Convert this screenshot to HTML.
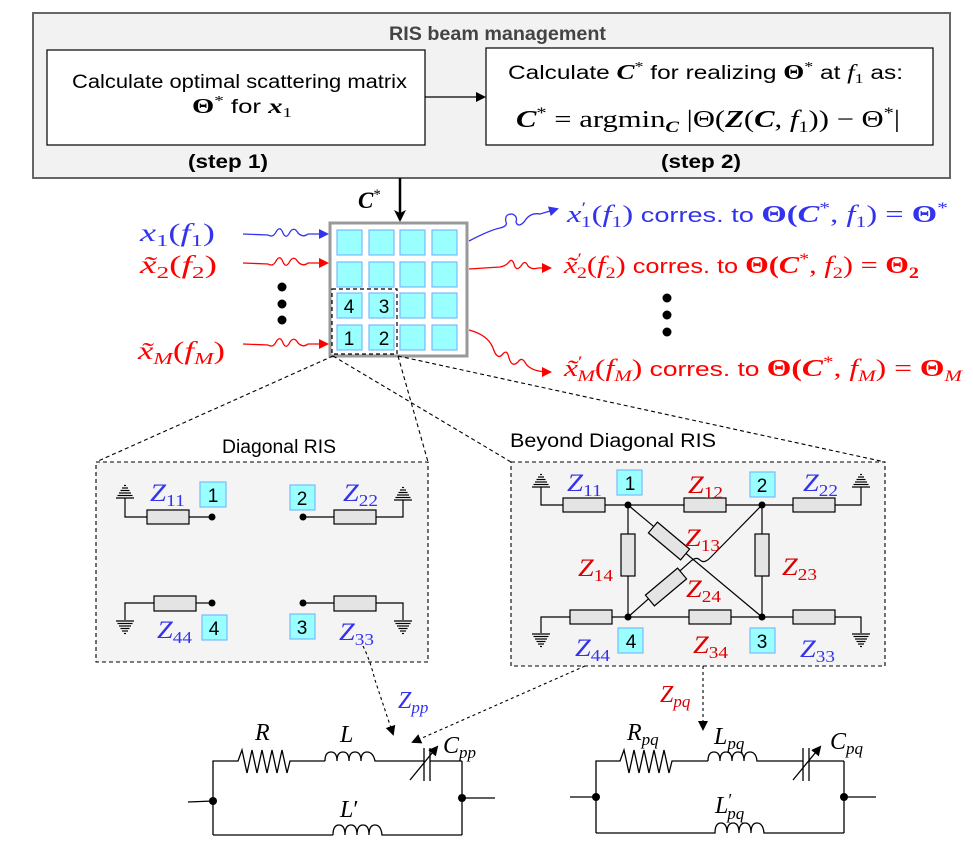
<!DOCTYPE html>
<html><head><meta charset="utf-8"><style>
html,body{margin:0;padding:0;background:#fff;}
svg{display:block;}
.s{font-family:"Liberation Sans",sans-serif;}
.m{font-family:"Liberation Serif",serif;font-style:italic;}
.mb{font-family:"Liberation Serif",serif;font-style:italic;font-weight:bold;}
.r{font-family:"Liberation Serif",serif;}
.rb{font-family:"Liberation Serif",serif;font-weight:bold;}
</style></head><body>
<svg width="973" height="853" viewBox="0 0 973 853" xmlns="http://www.w3.org/2000/svg">
<defs>
<marker id="ab" markerWidth="10" markerHeight="10" refX="8" refY="5" orient="auto" markerUnits="userSpaceOnUse"><path d="M0,0 L10,5 L0,10 z" fill="#3333ee"/></marker>
<marker id="ar" markerWidth="10" markerHeight="10" refX="8" refY="5" orient="auto" markerUnits="userSpaceOnUse"><path d="M0,0 L10,5 L0,10 z" fill="#ff0000"/></marker>
<marker id="ak" markerWidth="10" markerHeight="10" refX="8" refY="5" orient="auto" markerUnits="userSpaceOnUse"><path d="M0,0 L10,5 L0,10 z" fill="#000"/></marker>
<marker id="akb" markerWidth="14" markerHeight="14" refX="10" refY="6" orient="auto" markerUnits="userSpaceOnUse"><path d="M0,0 L12,6 L0,12 L3,6 z" fill="#000"/></marker>
<g id="gu" stroke="#000" stroke-width="1.2"><line x1="-9" y1="0" x2="9" y2="0"/><line x1="-7.5" y1="-2.5" x2="7.5" y2="-2.5"/><line x1="-6" y1="-5" x2="6" y2="-5"/><line x1="-4.5" y1="-7.5" x2="4.5" y2="-7.5"/><line x1="-3" y1="-10" x2="3" y2="-10"/><line x1="-1" y1="-12.5" x2="1" y2="-12.5"/></g>
<g id="gd" stroke="#000" stroke-width="1.2"><line x1="-9" y1="0" x2="9" y2="0"/><line x1="-7.5" y1="2.5" x2="7.5" y2="2.5"/><line x1="-6" y1="5" x2="6" y2="5"/><line x1="-4.5" y1="7.5" x2="4.5" y2="7.5"/><line x1="-3" y1="10" x2="3" y2="10"/><line x1="-1" y1="12.5" x2="1" y2="12.5"/></g>
</defs>

<!-- Top RIS beam management box -->
<rect x="33" y="13" width="917" height="165" fill="#f2f2f2" stroke="#666" stroke-width="2"/>
<text x="389" y="40" class="s" font-size="19" font-weight="bold" fill="#444" textLength="217" lengthAdjust="spacingAndGlyphs">RIS beam management</text>
<rect x="47" y="50" width="378" height="95" fill="#fff" stroke="#000" stroke-width="1.2"/>
<text x="72" y="88" class="s" font-size="19" textLength="335" lengthAdjust="spacingAndGlyphs">Calculate optimal scattering matrix</text>
<text x="192" y="113" font-size="21" textLength="100" lengthAdjust="spacingAndGlyphs"><tspan class="rb">Θ</tspan><tspan class="r" font-size="14" dy="-8">*</tspan><tspan class="s" font-size="19" dy="8"> for </tspan><tspan class="mb">x</tspan><tspan class="r" font-size="14" dy="4">1</tspan></text>
<line x1="425" y1="97" x2="484" y2="97" stroke="#000" stroke-width="1.2" marker-end="url(#ak)"/>
<rect x="486" y="48" width="447" height="97" fill="#fff" stroke="#000" stroke-width="1.2"/>
<text x="508" y="79" font-size="21" textLength="395" lengthAdjust="spacingAndGlyphs"><tspan class="s" font-size="19">Calculate </tspan><tspan class="mb">C</tspan><tspan class="r" font-size="14" dy="-8">*</tspan><tspan class="s" font-size="19" dy="8"> for realizing </tspan><tspan class="rb">Θ</tspan><tspan class="r" font-size="14" dy="-8">*</tspan><tspan class="s" font-size="19" dy="8"> at </tspan><tspan class="m">f</tspan><tspan class="r" font-size="14" dy="4">1</tspan><tspan class="s" font-size="19" dy="-4"> as:</tspan></text>
<text x="516" y="127" font-size="24" textLength="384" lengthAdjust="spacingAndGlyphs"><tspan class="mb">C</tspan><tspan class="r" font-size="16" dy="-9">*</tspan><tspan class="r" dy="9"> = argmin</tspan><tspan class="mb" font-size="16" dy="5">C</tspan><tspan class="r" dy="-5"> |Θ(</tspan><tspan class="mb">Z</tspan><tspan class="r">(</tspan><tspan class="mb">C</tspan><tspan class="r">, </tspan><tspan class="m">f</tspan><tspan class="r" font-size="16" dy="5">1</tspan><tspan class="r" dy="-5">)) − Θ</tspan><tspan class="r" font-size="16" dy="-9">*</tspan><tspan class="r" dy="9">|</tspan></text>
<text x="188" y="168" class="s" font-size="19" font-weight="bold" textLength="80" lengthAdjust="spacingAndGlyphs">(step 1)</text>
<text x="661" y="168" class="s" font-size="19" font-weight="bold" textLength="80" lengthAdjust="spacingAndGlyphs">(step 2)</text>

<!-- C* arrow -->
<line x1="400" y1="178" x2="400" y2="220" stroke="#000" stroke-width="2.5" marker-end="url(#akb)"/>
<text x="358" y="208" font-size="23"><tspan class="mb">C</tspan><tspan class="r" font-size="15" dy="-9">*</tspan></text>

<!-- RIS grid -->
<rect x="330" y="223" width="137" height="133" fill="#fff" stroke="#999" stroke-width="3"/>
<g fill="#99ffff" stroke="#77bbff" stroke-width="1.2">
<rect x="337" y="230" width="25" height="25"/><rect x="369" y="230" width="25" height="25"/><rect x="400" y="230" width="25" height="25"/><rect x="432" y="230" width="25" height="25"/>
<rect x="337" y="262" width="25" height="25"/><rect x="369" y="262" width="25" height="25"/><rect x="400" y="262" width="25" height="25"/><rect x="432" y="262" width="25" height="25"/>
<rect x="337" y="293" width="25" height="25"/><rect x="369" y="293" width="25" height="25"/><rect x="400" y="293" width="25" height="25"/><rect x="432" y="293" width="25" height="25"/>
<rect x="337" y="325" width="25" height="25"/><rect x="369" y="325" width="25" height="25"/><rect x="400" y="325" width="25" height="25"/><rect x="432" y="325" width="25" height="25"/>
</g>
<rect x="332" y="289" width="65" height="65" fill="none" stroke="#000" stroke-width="1.2" stroke-dasharray="4,3"/>
<g class="s" font-size="19" text-anchor="middle"><text x="349" y="313">4</text><text x="384" y="313">3</text><text x="349" y="345">1</text><text x="384" y="345">2</text></g>

<!-- Inputs -->
<g font-size="25">
<text x="140" y="241" fill="#3333ee" textLength="75" lengthAdjust="spacingAndGlyphs"><tspan class="m">x</tspan><tspan class="r" font-size="17" dy="5">1</tspan><tspan class="r" dy="-5">(</tspan><tspan class="m">f</tspan><tspan class="r" font-size="17" dy="5">1</tspan><tspan class="r" dy="-5">)</tspan></text>
<text x="140" y="273" fill="#ff0000" textLength="77" lengthAdjust="spacingAndGlyphs"><tspan class="m">x̃</tspan><tspan class="r" font-size="17" dy="5">2</tspan><tspan class="r" dy="-5">(</tspan><tspan class="m">f</tspan><tspan class="r" font-size="17" dy="5">2</tspan><tspan class="r" dy="-5">)</tspan></text>
<text x="138" y="359" fill="#ff0000" textLength="87" lengthAdjust="spacingAndGlyphs"><tspan class="m">x̃</tspan><tspan class="m" font-size="17" dy="5">M</tspan><tspan class="r" dy="-5">(</tspan><tspan class="m">f</tspan><tspan class="m" font-size="17" dy="5">M</tspan><tspan class="r" dy="-5">)</tspan></text>
</g>
<g fill="#000"><circle cx="282" cy="287" r="4.5"/><circle cx="282" cy="304" r="4.5"/><circle cx="282" cy="320" r="4.5"/></g>
<path d="M243,234 L268,235 Q273,238 276,232 Q280,225 283,233 Q286,240 290,232 Q294,226 298,233 Q303,238 308,234 L327,234" fill="none" stroke="#3333ee" stroke-width="1.3" marker-end="url(#ab)"/>
<path d="M243,263 L268,264 Q273,267 276,261 Q280,254 283,262 Q286,269 290,261 Q294,255 298,262 Q303,267 308,263 L327,263" fill="none" stroke="#ff0000" stroke-width="1.3" marker-end="url(#ar)"/>
<path d="M243,344 L268,345 Q273,348 276,342 Q280,335 283,343 Q286,350 290,342 Q294,336 298,343 Q303,348 308,344 L327,344" fill="none" stroke="#ff0000" stroke-width="1.3" marker-end="url(#ar)"/>

<!-- Outputs -->
<path d="M469,241 Q490,230 500,228 Q508,226 506,222 Q504,214 512,214 Q518,216 516,222 Q518,228 524,222 Q530,212 540,214 L557,209" fill="none" stroke="#3333ee" stroke-width="1.3" marker-end="url(#ab)"/>
<path d="M469,269 L500,267 Q506,266 509,262 Q512,258 514,264 Q516,272 521,266 Q525,259 528,266 Q532,270 538,268 L550,268" fill="none" stroke="#ff0000" stroke-width="1.3" marker-end="url(#ar)"/>
<path d="M469,330 Q488,335 493,348 Q497,360 502,355 Q507,348 509,358 Q512,368 518,362 Q522,356 526,364 Q532,372 550,372" fill="none" stroke="#ff0000" stroke-width="1.3" marker-end="url(#ar)"/>
<g font-size="24">
<text x="567" y="222" fill="#3333ee" textLength="381" lengthAdjust="spacingAndGlyphs"><tspan class="m">x</tspan><tspan class="r" font-size="16" dy="-9">′</tspan><tspan class="r" font-size="16" dx="-4" dy="14">1</tspan><tspan class="r" dy="-5">(</tspan><tspan class="m">f</tspan><tspan class="r" font-size="16" dy="5">1</tspan><tspan class="r" dy="-5">)</tspan><tspan class="s" font-size="20"> corres. to </tspan><tspan class="rb">Θ(</tspan><tspan class="mb">C</tspan><tspan class="r" font-size="16" dy="-9">*</tspan><tspan class="r" dy="9">, </tspan><tspan class="m">f</tspan><tspan class="r" font-size="16" dy="5">1</tspan><tspan class="r" dy="-5">) = </tspan><tspan class="rb">Θ</tspan><tspan class="r" font-size="16" dy="-9">*</tspan></text>
<text x="564" y="273" fill="#ff0000" textLength="355" lengthAdjust="spacingAndGlyphs"><tspan class="m">x̃</tspan><tspan class="r" font-size="16" dy="-9">′</tspan><tspan class="r" font-size="16" dx="-4" dy="14">2</tspan><tspan class="r" dy="-5">(</tspan><tspan class="m">f</tspan><tspan class="r" font-size="16" dy="5">2</tspan><tspan class="r" dy="-5">)</tspan><tspan class="s" font-size="20"> corres. to </tspan><tspan class="rb">Θ(</tspan><tspan class="mb">C</tspan><tspan class="r" font-size="16" dy="-9">*</tspan><tspan class="r" dy="9">, </tspan><tspan class="m">f</tspan><tspan class="r" font-size="16" dy="5">2</tspan><tspan class="r" dy="-5">) = </tspan><tspan class="rb">Θ</tspan><tspan class="rb" font-size="16" dy="5">2</tspan></text>
<text x="564" y="376" fill="#ff0000" textLength="398" lengthAdjust="spacingAndGlyphs"><tspan class="m">x̃</tspan><tspan class="r" font-size="16" dy="-9">′</tspan><tspan class="m" font-size="16" dx="-4" dy="14">M</tspan><tspan class="r" dy="-5">(</tspan><tspan class="m">f</tspan><tspan class="m" font-size="16" dy="5">M</tspan><tspan class="r" dy="-5">)</tspan><tspan class="s" font-size="20"> corres. to </tspan><tspan class="rb">Θ(</tspan><tspan class="mb">C</tspan><tspan class="r" font-size="16" dy="-9">*</tspan><tspan class="r" dy="9">, </tspan><tspan class="m">f</tspan><tspan class="m" font-size="16" dy="5">M</tspan><tspan class="r" dy="-5">) = </tspan><tspan class="rb">Θ</tspan><tspan class="m" font-size="16" dy="5">M</tspan></text>
</g>
<g fill="#000"><circle cx="667" cy="298" r="4.5"/><circle cx="667" cy="315" r="4.5"/><circle cx="667" cy="332" r="4.5"/></g>

<!-- zoom dashed lines -->
<g stroke="#000" stroke-width="1.1" stroke-dasharray="4,3" fill="none">
<line x1="333" y1="356" x2="96" y2="462"/>
<line x1="333" y1="356" x2="511" y2="462"/>
<line x1="398" y1="356" x2="428" y2="462"/>
<line x1="398" y1="356" x2="885" y2="462"/>
</g>

<!-- Diagonal RIS -->
<text x="222" y="453" class="s" font-size="19" textLength="114" lengthAdjust="spacingAndGlyphs">Diagonal RIS</text>
<rect x="96" y="462" width="332" height="200" fill="#f4f4f4" stroke="#000" stroke-width="1.1" stroke-dasharray="4,3"/>
<g stroke="#000" stroke-width="1.2" fill="none">
<polyline points="125,498 125,517 147,517"/><line x1="189" y1="517" x2="212" y2="517"/>
<polyline points="403,500 403,517 376,517"/><line x1="303" y1="517" x2="334" y2="517"/>
<polyline points="125,620 125,603 154,603"/><line x1="196" y1="603" x2="212" y2="603"/>
<polyline points="403,620 403,603 376,603"/><line x1="303" y1="603" x2="334" y2="603"/>
</g>
<g fill="#e4e4e4" stroke="#000" stroke-width="1.2">
<rect x="147" y="510" width="42" height="14"/><rect x="334" y="510" width="42" height="14"/>
<rect x="154" y="596" width="42" height="15"/><rect x="334" y="596" width="42" height="15"/>
</g>
<use href="#gu" x="125" y="498"/><use href="#gu" x="403" y="500"/>
<use href="#gd" x="125" y="621"/><use href="#gd" x="403" y="621"/>
<g fill="#000"><circle cx="212" cy="517" r="3.5"/><circle cx="303" cy="517" r="3.5"/><circle cx="212" cy="603" r="3.5"/><circle cx="303" cy="603" r="3.5"/></g>
<g fill="#99ffff" stroke="#77bbff" stroke-width="1.2">
<rect x="200" y="482" width="26" height="25"/><rect x="290" y="485" width="25" height="25"/>
<rect x="202" y="615" width="25" height="25"/><rect x="290" y="614" width="25" height="25"/>
</g>
<g class="s" font-size="19" text-anchor="middle"><text x="213" y="502">1</text><text x="302" y="505">2</text><text x="214" y="635">4</text><text x="302" y="634">3</text></g>
<g fill="#3333ee" font-size="25">
<text x="150" y="501" textLength="35" lengthAdjust="spacingAndGlyphs"><tspan class="m">Z</tspan><tspan class="r" font-size="17" dy="5">11</tspan></text>
<text x="343" y="501" textLength="35" lengthAdjust="spacingAndGlyphs"><tspan class="m">Z</tspan><tspan class="r" font-size="17" dy="5">22</tspan></text>
<text x="157" y="638" textLength="35" lengthAdjust="spacingAndGlyphs"><tspan class="m">Z</tspan><tspan class="r" font-size="17" dy="5">44</tspan></text>
<text x="339" y="640" textLength="35" lengthAdjust="spacingAndGlyphs"><tspan class="m">Z</tspan><tspan class="r" font-size="17" dy="5">33</tspan></text>
</g>

<!-- Beyond Diagonal RIS -->
<text x="510" y="447" class="s" font-size="19" textLength="206" lengthAdjust="spacingAndGlyphs">Beyond Diagonal RIS</text>
<rect x="511" y="462" width="374" height="204" fill="#f4f4f4" stroke="#000" stroke-width="1.1" stroke-dasharray="4,3"/>
<g stroke="#000" stroke-width="1.2" fill="none">
<polyline points="541,487 541,505 563,505"/><line x1="605" y1="505" x2="684" y2="505"/><line x1="726" y1="505" x2="793" y2="505"/><polyline points="835,505 861,505 861,487"/>
<polyline points="541,633 541,617 570,617"/><line x1="612" y1="617" x2="689" y2="617"/><line x1="731" y1="617" x2="793" y2="617"/><polyline points="835,617 861,617 861,633"/>
<line x1="628" y1="505" x2="628" y2="617"/><line x1="762" y1="505" x2="762" y2="617"/>
<line x1="628" y1="505" x2="762" y2="617"/>
<path d="M628,617 L690,562 Q696,556 700,560 Q704,564 710,558 L762,505"/>
</g>
<g fill="#e4e4e4" stroke="#000" stroke-width="1.2">
<rect x="563" y="498" width="42" height="14"/><rect x="684" y="498" width="42" height="14"/><rect x="793" y="498" width="42" height="14"/>
<rect x="570" y="610" width="42" height="14"/><rect x="689" y="610" width="42" height="14"/><rect x="793" y="610" width="42" height="14"/>
<rect x="621" y="534" width="14" height="42"/><rect x="755" y="534" width="14" height="42"/>
<rect x="-21" y="-7" width="42" height="14" transform="translate(669,541) rotate(40)"/>
<rect x="-21" y="-7" width="42" height="14" transform="translate(666,587) rotate(-40)"/>
</g>
<use href="#gu" x="541" y="487"/><use href="#gu" x="861" y="487"/>
<use href="#gd" x="541" y="634"/><use href="#gd" x="861" y="634"/>
<g fill="#000"><circle cx="628" cy="505" r="3.5"/><circle cx="762" cy="505" r="3.5"/><circle cx="628" cy="617" r="3.5"/><circle cx="762" cy="617" r="3.5"/></g>
<g fill="#99ffff" stroke="#77bbff" stroke-width="1.2">
<rect x="617" y="470" width="25" height="25"/><rect x="750" y="472" width="25" height="25"/>
<rect x="618" y="628" width="25" height="25"/><rect x="750" y="628" width="25" height="25"/>
</g>
<g class="s" font-size="19" text-anchor="middle"><text x="630" y="490">1</text><text x="762" y="492">2</text><text x="631" y="648">4</text><text x="762" y="648">3</text></g>
<g fill="#3333ee" font-size="25">
<text x="567" y="491" textLength="35" lengthAdjust="spacingAndGlyphs"><tspan class="m">Z</tspan><tspan class="r" font-size="17" dy="5">11</tspan></text>
<text x="803" y="491" textLength="35" lengthAdjust="spacingAndGlyphs"><tspan class="m">Z</tspan><tspan class="r" font-size="17" dy="5">22</tspan></text>
<text x="575" y="656" textLength="35" lengthAdjust="spacingAndGlyphs"><tspan class="m">Z</tspan><tspan class="r" font-size="17" dy="5">44</tspan></text>
<text x="800" y="657" textLength="35" lengthAdjust="spacingAndGlyphs"><tspan class="m">Z</tspan><tspan class="r" font-size="17" dy="5">33</tspan></text>
</g>
<g fill="#dd0000" font-size="25">
<text x="688" y="493" textLength="35" lengthAdjust="spacingAndGlyphs"><tspan class="m">Z</tspan><tspan class="r" font-size="17" dy="5">12</tspan></text>
<text x="685" y="546" textLength="35" lengthAdjust="spacingAndGlyphs"><tspan class="m">Z</tspan><tspan class="r" font-size="17" dy="5">13</tspan></text>
<text x="578" y="576" textLength="35" lengthAdjust="spacingAndGlyphs"><tspan class="m">Z</tspan><tspan class="r" font-size="17" dy="5">14</tspan></text>
<text x="782" y="575" textLength="35" lengthAdjust="spacingAndGlyphs"><tspan class="m">Z</tspan><tspan class="r" font-size="17" dy="5">23</tspan></text>
<text x="686" y="597" textLength="35" lengthAdjust="spacingAndGlyphs"><tspan class="m">Z</tspan><tspan class="r" font-size="17" dy="5">24</tspan></text>
<text x="693" y="653" textLength="35" lengthAdjust="spacingAndGlyphs"><tspan class="m">Z</tspan><tspan class="r" font-size="17" dy="5">34</tspan></text>
</g>

<!-- dashed arrows to circuits -->
<g stroke="#000" stroke-width="1.1" stroke-dasharray="3,3" fill="none">
<path d="M363,646 Q370,660 375,680 L393,734" marker-end="url(#ak)"/>
<line x1="585" y1="666" x2="413" y2="742" marker-end="url(#ak)"/>
<line x1="703" y1="666" x2="703" y2="729" marker-end="url(#ak)"/>
</g>
<text x="398" y="708" fill="#3333ee" font-size="24"><tspan class="m">Z</tspan><tspan class="m" font-size="17" dy="5">pp</tspan></text>
<text x="660" y="702" fill="#dd0000" font-size="24"><tspan class="m">Z</tspan><tspan class="m" font-size="17" dy="5">pq</tspan></text>

<!-- Left circuit -->
<g stroke="#000" stroke-width="1.3" fill="none">
<line x1="188" y1="802" x2="213" y2="801"/><line x1="462" y1="798" x2="495" y2="798"/>
<polyline points="213,835 213,761 238,761 242,750 247,773 252,750 257,773 262,750 267,773 272,750 277,773 282,750 287,773 290,761 325,761"/>
<path d="M325,761 Q325,752 331,752 Q337,752 337,761 Q337,752 343,752 Q349,752 349,761 Q349,752 355,752 Q361,752 361,761 Q361,752 367,752 Q373,752 375,761 L424,761"/>
<line x1="430" y1="761" x2="462" y2="761"/><line x1="462" y1="761" x2="462" y2="835"/>
<line x1="424" y1="748" x2="424" y2="781"/><line x1="430" y1="748" x2="430" y2="781"/>
<line x1="410" y1="780" x2="437" y2="747" marker-end="url(#ak)"/>
<polyline points="213,835 333,835"/>
<path d="M333,835 Q333,825 339,825 Q345,825 345,835 Q345,825 351,825 Q357,825 357,835 Q357,825 363,825 Q369,825 369,835 Q369,825 375,825 Q381,825 382,835 L462,835"/>
</g>
<g fill="#000"><circle cx="213" cy="801" r="4"/><circle cx="462" cy="798" r="4"/></g>
<text x="255" y="740" class="m" font-size="24">R</text>
<text x="340" y="742" class="m" font-size="24">L</text>
<text x="443" y="753" font-size="24"><tspan class="m">C</tspan><tspan class="m" font-size="17" dy="5">pp</tspan></text>
<text x="340" y="817" font-size="24"><tspan class="m">L</tspan><tspan class="r">′</tspan></text>

<!-- Right circuit -->
<g stroke="#000" stroke-width="1.3" fill="none">
<line x1="570" y1="797" x2="596" y2="797"/><line x1="844" y1="797" x2="876" y2="797"/>
<polyline points="596,833 596,761 620,761 624,750 629,773 634,750 639,773 644,750 649,773 654,750 659,773 664,750 669,773 672,761 708,761"/>
<path d="M708,761 Q708,752 714,752 Q720,752 720,761 Q720,752 726,752 Q732,752 732,761 Q732,752 738,752 Q744,752 744,761 Q744,752 750,752 Q756,752 757,761 L803,761"/>
<line x1="809" y1="761" x2="844" y2="761"/><line x1="844" y1="761" x2="844" y2="833"/>
<line x1="803" y1="748" x2="803" y2="781"/><line x1="809" y1="748" x2="809" y2="781"/>
<line x1="793" y1="780" x2="820" y2="747" marker-end="url(#ak)"/>
<path d="M596,833 L715,833 Q715,823 721,823 Q727,823 727,833 Q727,823 733,823 Q739,823 739,833 Q739,823 745,823 Q751,823 751,833 Q751,823 757,823 Q763,823 764,833 L844,833"/>
</g>
<g fill="#000"><circle cx="596" cy="797" r="4"/><circle cx="844" cy="797" r="4"/></g>
<text x="627" y="740" font-size="24"><tspan class="m">R</tspan><tspan class="m" font-size="17" dy="5">pq</tspan></text>
<text x="714" y="744" font-size="24"><tspan class="m">L</tspan><tspan class="m" font-size="17" dy="5">pq</tspan></text>
<text x="830" y="749" font-size="24"><tspan class="m">C</tspan><tspan class="m" font-size="17" dy="5">pq</tspan></text>
<text x="715" y="813" font-size="24"><tspan class="m">L</tspan><tspan class="r" font-size="18" dy="-7">′</tspan><tspan class="m" font-size="17" dx="-5" dy="13">pq</tspan></text>
</svg>
</body></html>
